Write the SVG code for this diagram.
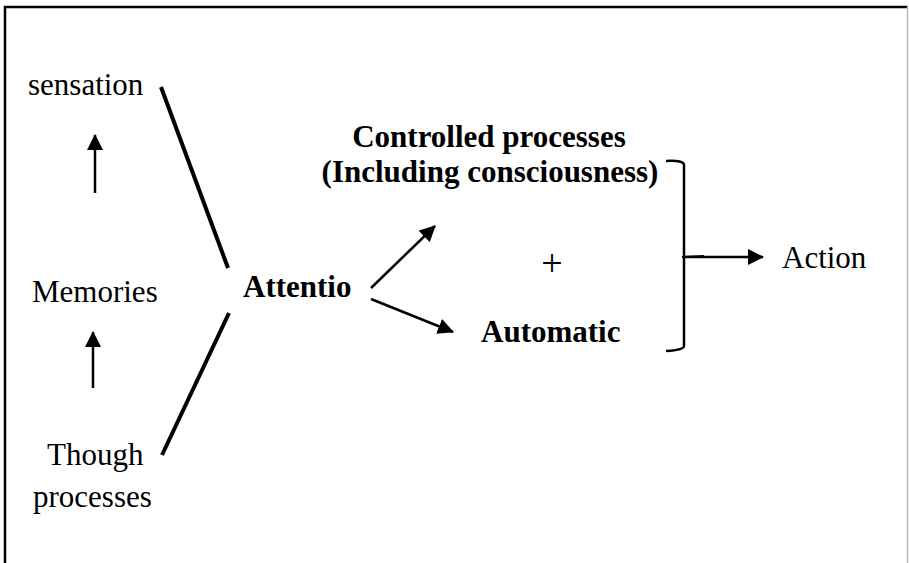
<svg xmlns="http://www.w3.org/2000/svg" width="909" height="563" viewBox="0 0 909 563">
  <style>
    .t { font-family: "Liberation Serif", "Times New Roman", serif; font-size: 31px; fill: #000; }
    .b { font-weight: bold; }
    .thick { stroke: #000; stroke-width: 4; fill: none; }
    .arr { stroke: #000; stroke-width: 2.5; fill: none; marker-end: url(#ah); }
  </style>
  <defs>
    <marker id="ah" markerUnits="userSpaceOnUse" markerWidth="16" markerHeight="16" viewBox="0 0 16 16" refX="15" refY="8" orient="auto">
      <path d="M0,0 L16,8 L0,16 Z" fill="#000"/>
    </marker>
  </defs>
  <rect x="0" y="0" width="909" height="563" fill="#fff"/>
  <path d="M5,575 L5,7 L907.5,7" fill="none" stroke="#000" stroke-width="2.5"/>
  <path d="M907.5,7 L907.5,575" fill="none" stroke="#bbb" stroke-width="1.5"/>

  <g id="sensation"><text class="t" x="28" y="95">sensation</text></g>
  <g id="memories"><text class="t" x="32" y="302">Memories</text></g>
  <g id="though"><text class="t" x="47" y="465">Though</text><text class="t" x="33" y="507">processes</text></g>
  <g id="attentio"><text class="t b" x="243" y="297">Attentio</text></g>
  <g id="controlled"><text class="t b" x="489" y="147" text-anchor="middle">Controlled processes</text><text class="t b" x="490" y="182" text-anchor="middle">(Including consciousness)</text></g>
  <g id="plus"><text class="t" x="552" y="276" text-anchor="middle" style="font-size:38px">+</text></g>
  <g id="automatic"><text class="t b" x="481" y="342">Automatic</text></g>
  <g id="action"><text class="t" x="782" y="268">Action</text></g>

  <g id="connectors">
    <line class="arr" x1="95" y1="193" x2="95" y2="135"/>
    <line class="arr" x1="93" y1="388" x2="93" y2="332"/>
    <line class="thick" x1="161" y1="87" x2="228" y2="268"/>
    <line class="thick" x1="229" y1="313" x2="162" y2="455"/>
    <line class="arr" x1="371" y1="288" x2="435" y2="226"/>
    <line class="arr" x1="371" y1="299" x2="453" y2="332"/>
    <path d="M666,161 Q684,160 684,165 L684,346 Q684,350 666,351" fill="none" stroke="#000" stroke-width="2.5"/>
    <path d="M682,257 L704,256" fill="none" stroke="#000" stroke-width="2"/>
    <line class="arr" x1="684" y1="257" x2="763" y2="257"/>
  </g>
</svg>
